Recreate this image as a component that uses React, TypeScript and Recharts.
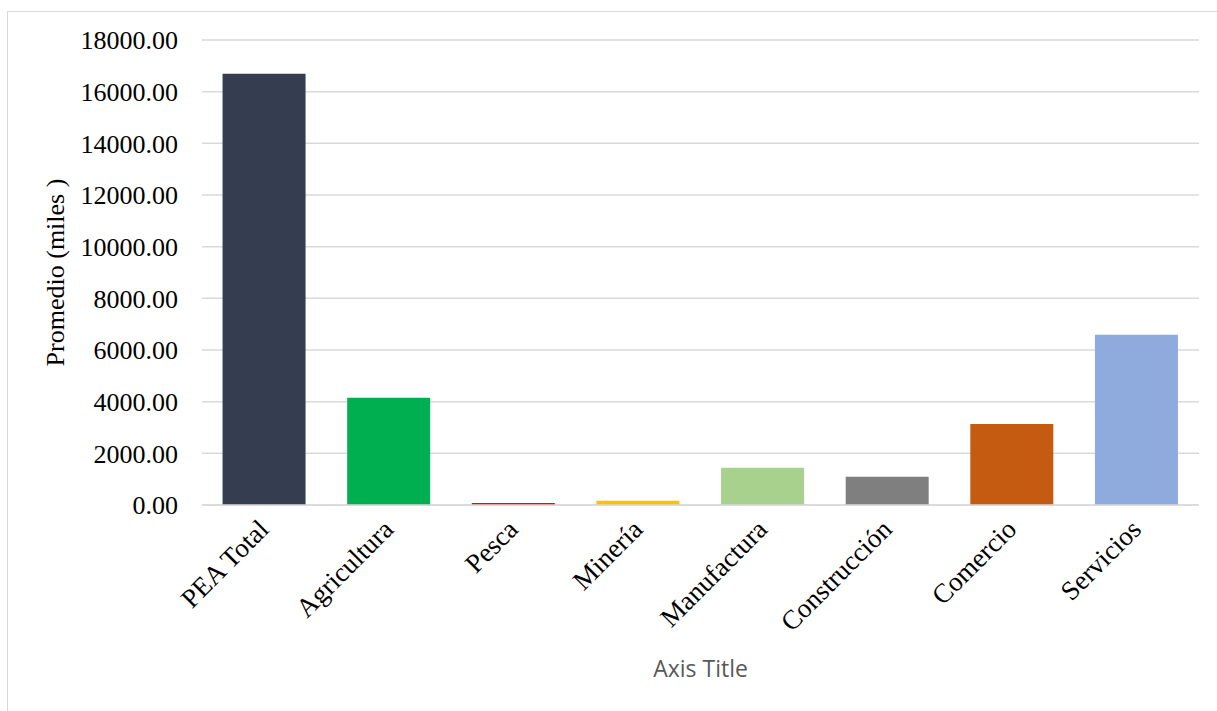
import React from 'react';
import { BarChart, Bar, XAxis, YAxis, CartesianGrid, Cell, Label } from 'recharts';

const categories = ['PEA Total', 'Agricultura', 'Pesca', 'Minería', 'Manufactura', 'Construcción', 'Comercio', 'Servicios'];
const values = [16690, 4150, 80, 160, 1440, 1090, 3140, 6590];
const colors = ['#343E50', '#00B050', '#FF0000', '#FFC000', '#A9D18E', '#7F7F7F', '#C55A11', '#8FAADC'];
const yTicks = [0, 2000, 4000, 6000, 8000, 10000, 12000, 14000, 16000, 18000];

const data = categories.map((name, i) => ({ name, value: values[i] }));

const SERIF = '"Liberation Serif", "Times New Roman", serif';

const XTick = (props: any) => {
  const { x, y, payload } = props;
  const ax = x + 6;
  const ay = y + 18;
  return (
    <text
      x={ax}
      y={ay}
      transform={`rotate(-45, ${ax}, ${ay})`}
      textAnchor="end"
      fontFamily={SERIF}
      fontSize={27}
      fill="#000"
    >
      {payload.value}
    </text>
  );
};

export default function App() {
  return (
    <div style={{ position: 'absolute', left: 0, top: 0, width: 1217, height: 711, background: '#fff' }}>
      <div
        style={{
          position: 'absolute',
          left: 7,
          top: 11,
          width: 1220,
          height: 710,
          border: '1px solid #d9d9d9',
          boxSizing: 'border-box',
        }}
      />
      <div style={{ position: 'absolute', left: 0, top: 0 }}>
        <BarChart
          width={1217}
          height={711}
          data={data}
          margin={{ top: 40, right: 18, bottom: 0, left: 0 }}
          barCategoryGap="16.5%"
        >
          <CartesianGrid vertical={false} stroke="#d9d9d9" strokeWidth={1.5} />
          <XAxis
            dataKey="name"
            axisLine={{ stroke: '#d9d9d9', strokeWidth: 1.5 }}
            tickLine={false}
            interval={0}
            tick={<XTick />}
            height={206}
          >
            <Label
              value="Axis Title"
              position="insideBottom"
              offset={34}
              style={{ fontFamily: '"Open Sans", sans-serif', fontSize: 23, fill: '#595959' }}
            />
          </XAxis>
          <YAxis
            width={202}
            domain={[0, 18000]}
            ticks={yTicks}
            interval={0}
            axisLine={false}
            tickLine={false}
            tickSize={0}
            tickMargin={24}
            tickFormatter={(v: number) => v.toFixed(2)}
            tick={{ fontFamily: SERIF, fontSize: 26, fill: '#000' }}
          >
            <Label
              value="Promedio (miles )"
              angle={-90}
              position="insideLeft"
              offset={0}
              dx={55}
              style={{ fontFamily: SERIF, fontSize: 26, fill: '#000', textAnchor: 'middle' }}
            />
          </YAxis>
          <Bar dataKey="value" isAnimationActive={false}>
            {data.map((d, i) => (
              <Cell key={d.name} fill={colors[i]} />
            ))}
          </Bar>
        </BarChart>
      </div>
    </div>
  );
}
